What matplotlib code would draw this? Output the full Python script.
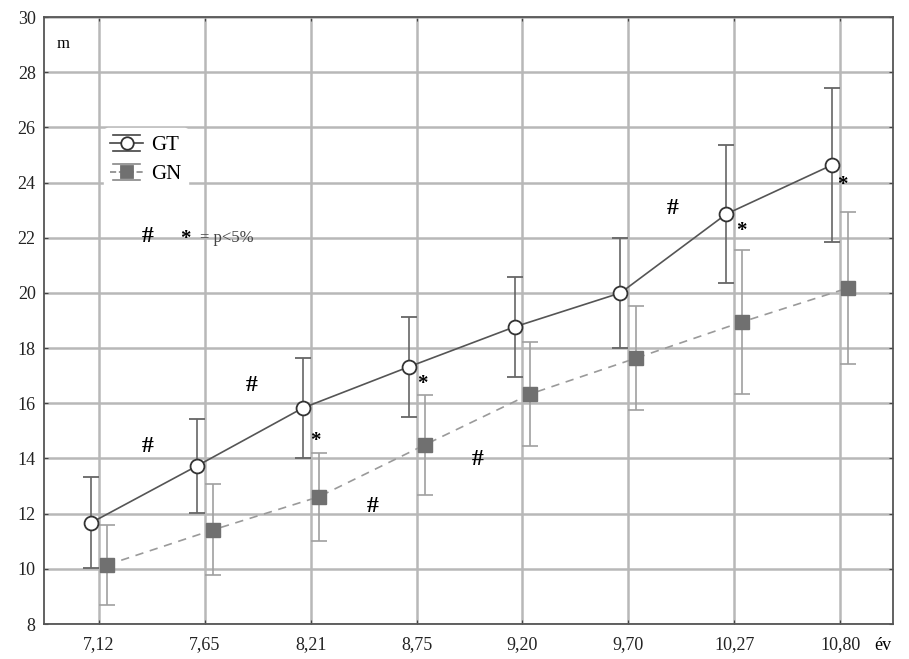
import numpy as np
import matplotlib.pyplot as plt
from matplotlib.lines import Line2D
from matplotlib.legend_handler import HandlerBase

# age groups (years)
ages = ['7,12', '7,65', '8,21', '8,75', '9,20', '9,70', '10,27', '10,80']
gt_mean = [11.67, 13.73, 15.83, 17.32, 18.77, 20.0, 22.86, 24.64]
gt_sd = [1.65, 1.70, 1.80, 1.80, 1.80, 2.0, 2.5, 2.8]
gn_mean = [10.14, 11.41, 12.61, 14.49, 16.34, 17.64, 18.95, 20.18]
gn_sd = [1.45, 1.65, 1.60, 1.80, 1.90, 1.90, 2.6, 2.75]

# significance marks (x in category units, y in m)
hash_x = [0.46, 1.44, 2.58, 3.58, 5.42]
hash_y = [14.45, 16.65, 12.25, 13.95, 23.05]
star_x = [2.04, 3.05, 6.07, 7.02]
star_y = [14.65, 16.7, 22.25, 23.9]


class CapHandler(HandlerBase):
    # marker with a cap line above and below, like the original legend
    def create_artists(self, legend, orig, xd, yd, width, height, fontsize, trans):
        x0, x1 = -xd, width - xd
        yc = -yd + height / 2
        h = height * 0.42
        arts = []
        for yy in (yc + h, yc - h):
            arts.append(Line2D([x0 + 2, x1 - 2], [yy, yy], color=orig.get_color(), lw=1.2))
        ln = Line2D([x0, x1], [yc, yc], color=orig.get_color(), lw=1.2,
                    ls=orig.get_linestyle())
        mk = Line2D([(x0 + x1) / 2], [yc], marker=orig.get_marker(), ms=9,
                    mfc=orig.get_markerfacecolor(), mec=orig.get_markeredgecolor(),
                    mew=1.3, ls='none')
        arts += [ln, mk]
        for a in arts:
            a.set_transform(trans)
        return arts


plt.rcParams['font.family'] = ['Liberation Serif', 'DejaVu Serif']

fig = plt.figure(figsize=(9.09, 6.59), dpi=100)
ax = fig.add_axes([0.0484, 0.0531, 0.934, 0.921])

x = np.arange(len(ages))
off = 0.075

ax.errorbar(x - off, gt_mean, yerr=gt_sd, fmt='-o', color='#555555', lw=1.2,
            ms=10, mfc='white', mec='#333333', mew=1.3, ecolor='#666666',
            elinewidth=1.2, capsize=6, capthick=1.2, zorder=4)
ax.errorbar(x + off, gn_mean, yerr=gn_sd, fmt='--s', color='#9a9a9a', lw=1.2,
            ms=10, mfc='#707070', mec='#707070', ecolor='#a0a0a0',
            elinewidth=1.2, capsize=6, capthick=1.2, zorder=3,
            dashes=(5, 4))

for hx, hy in zip(hash_x, hash_y):
    ax.text(hx, hy, '#', fontsize=17, fontweight='bold', ha='center', va='center')
for sx, sy in zip(star_x, star_y):
    ax.text(sx, sy, '*', fontsize=15, fontweight='bold', ha='center', va='center')

ax.text(0.46, 22.05, '#', fontsize=17, fontweight='bold', ha='center', va='center')
ax.text(0.82, 21.95, '*', fontsize=15, fontweight='bold', ha='center', va='center')
ax.text(0.95, 22.0, '= p<5%', fontsize=12, ha='left', va='center', color='#444444')

ax.text(0.015, 0.955, 'm', transform=ax.transAxes, fontsize=12, va='center')
ax.text(0.988, -0.035, 'év', transform=ax.transAxes, fontsize=13, ha='center', va='center')

h_gt = Line2D([], [], color='#444444', marker='o', mfc='white', mec='#333333', ls='-')
h_gn = Line2D([], [], color='#888888', marker='s', mfc='#707070', mec='#707070', ls='--')
leg = ax.legend([h_gt, h_gn], ['GT', 'GN'], loc='upper left',
                bbox_to_anchor=(0.058, 0.835), frameon=True, fontsize=15,
                handlelength=1.6, borderpad=0.3, labelspacing=0.35,
                handletextpad=0.4, handleheight=1.0,
                handler_map={h_gt: CapHandler(), h_gn: CapHandler()})
leg.get_frame().set_edgecolor('white')
leg.get_frame().set_facecolor('white')
leg.get_frame().set_alpha(1)

ax.set_xlim(-0.52, 7.5)
ax.set_ylim(8, 30)
ax.set_xticks(x)
ax.set_xticklabels(ages)
ax.set_yticks(np.arange(8, 31, 2))
ax.grid(True, color='#b8b8b8', lw=1.8)
ax.set_axisbelow(True)
ax.tick_params(direction='in', length=3, color='#444444', labelsize=13,
               top=True, right=True, labelcolor='#222222')
ax.tick_params(axis='x', pad=9)
ax.tick_params(axis='y', pad=6)
for s in ax.spines.values():
    s.set_color('#555555')
    s.set_linewidth(1.3)

fig.savefig('out.png', dpi=100)
